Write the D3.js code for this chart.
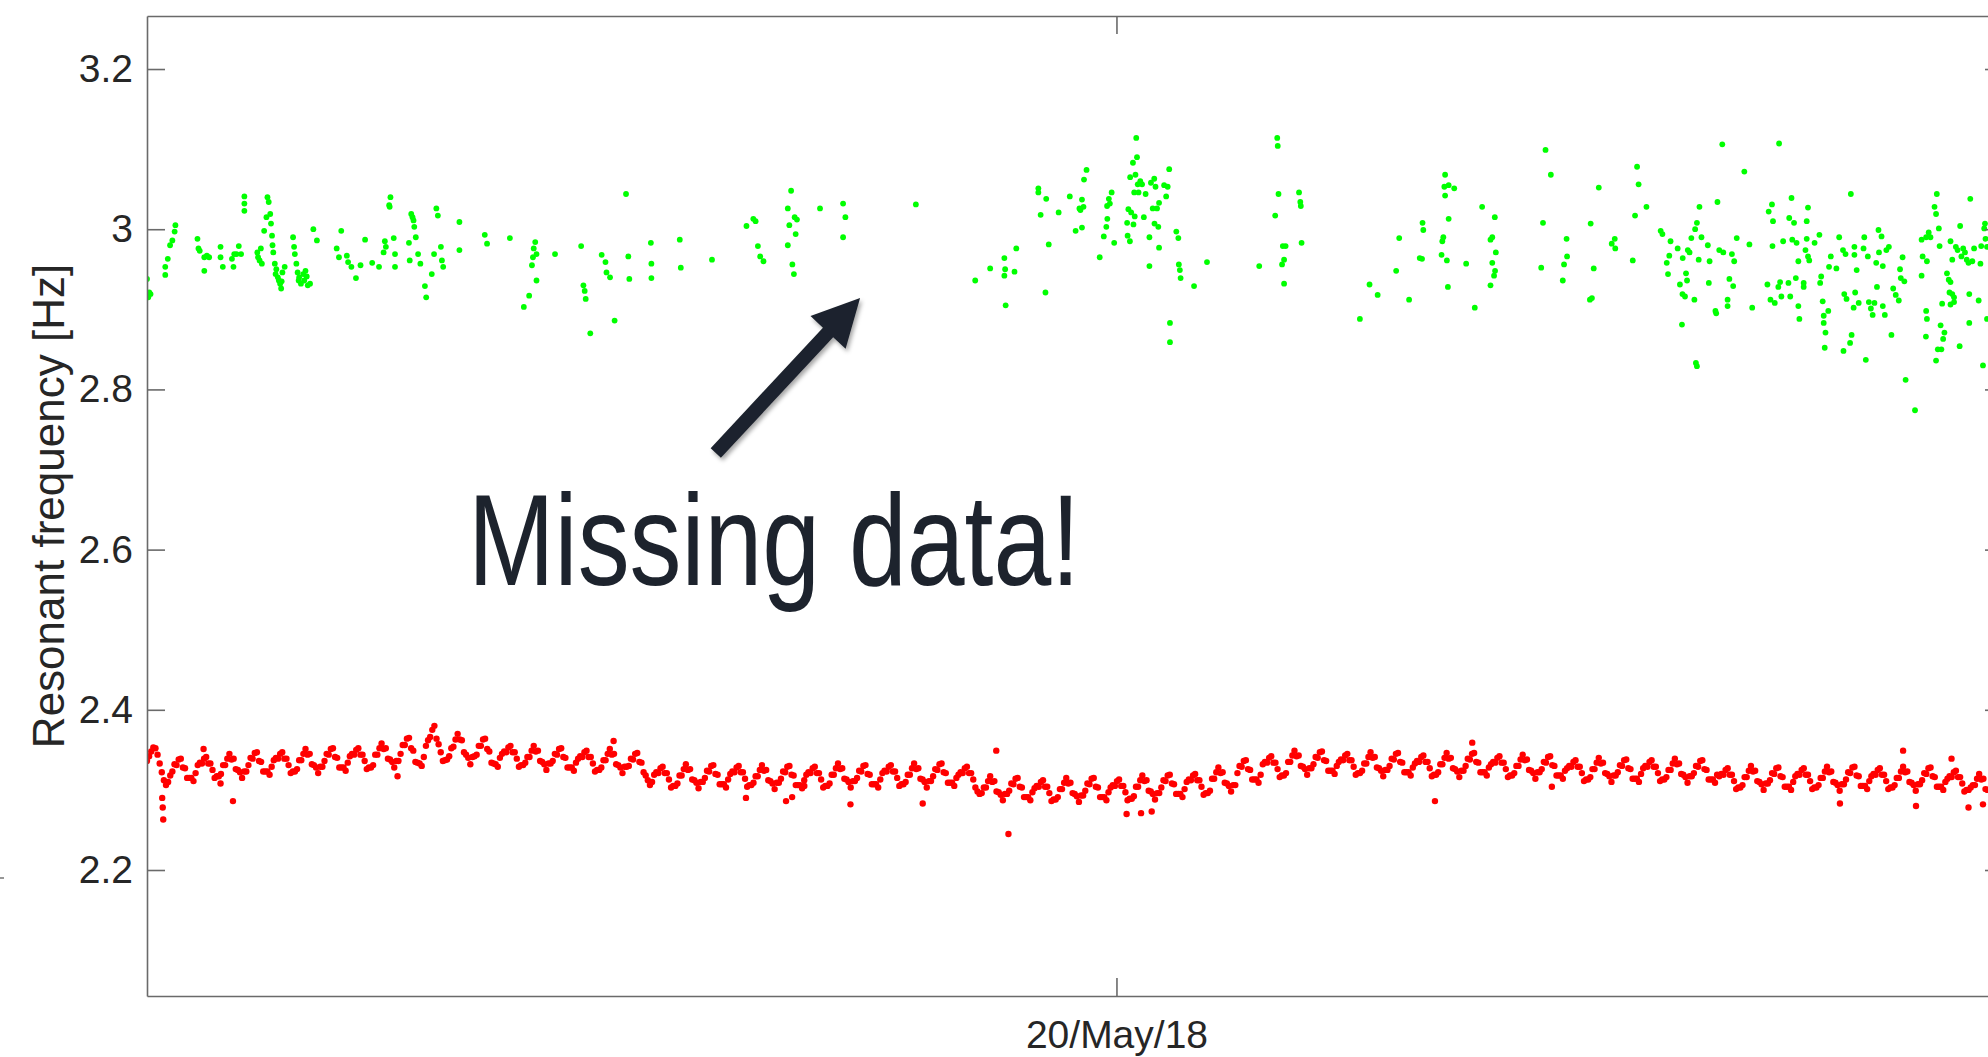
<!DOCTYPE html>
<html><head><meta charset="utf-8">
<script src="https://cdn.jsdelivr.net/npm/d3@7"></script>
<style>html,body{margin:0;padding:0;background:#fff;overflow:hidden;} svg{display:block;}</style>
</head><body>
<svg id="chart" width="1988" height="1057"></svg>
<script>
// ---- time axis ----
const startTime = Date.UTC(2018, 3, 11, 18, 29);   // left edge of the axes
const spanDays = 73.19;
const xTickDates = [Date.UTC(2018, 4, 20)];
const xTickLabels = ["20/May/18"];
// ---- value axis ----
const yDomain = [2.0427, 3.2662];
const yTicks = [2.2, 2.4, 2.6, 2.8, 3.0, 3.2];
const yTickLabels = ["2.2", "2.4", "2.6", "2.8", "3", "3.2"];
const yLabel = "Resonant frequency [Hz]";
// ---- red series: one reading every 2 hours from startTime (one row per day) ----
const redStepHours = 2;
const redFreq = [
2.336,2.342,2.348,2.353,2.352,2.344,2.333,2.322,2.312,2.306,2.310,2.318,
2.323,2.332,2.331,2.338,2.339,2.328,2.327,2.315,2.315,2.315,2.311,2.321,
2.331,2.334,2.333,2.339,2.341,2.333,2.333,2.325,2.315,2.317,2.317,2.320,
2.331,2.331,2.339,2.345,2.338,2.339,2.326,2.325,2.322,2.315,2.323,2.323,
2.331,2.340,2.339,2.346,2.347,2.336,2.335,2.323,2.323,2.323,2.319,2.329,
2.337,2.340,2.339,2.345,2.347,2.339,2.339,2.331,2.321,2.323,2.323,2.326,
2.337,2.337,2.345,2.351,2.344,2.345,2.332,2.331,2.328,2.321,2.329,2.329,
2.336,2.345,2.344,2.351,2.352,2.341,2.340,2.328,2.328,2.328,2.324,2.334,
2.342,2.345,2.344,2.350,2.352,2.344,2.344,2.336,2.326,2.328,2.328,2.331,
2.344,2.344,2.352,2.358,2.351,2.352,2.339,2.338,2.335,2.328,2.336,2.336,
2.345,2.356,2.356,2.364,2.365,2.352,2.349,2.335,2.334,2.333,2.330,2.341,
2.355,2.362,2.366,2.375,2.380,2.364,2.357,2.347,2.336,2.337,2.338,2.342,
2.352,2.354,2.363,2.370,2.363,2.362,2.347,2.344,2.340,2.332,2.341,2.342,
2.344,2.355,2.355,2.363,2.364,2.351,2.348,2.334,2.333,2.332,2.329,2.340,
2.345,2.348,2.347,2.353,2.355,2.347,2.347,2.339,2.329,2.331,2.331,2.334,
2.341,2.341,2.349,2.355,2.348,2.349,2.336,2.335,2.332,2.325,2.333,2.333,
2.336,2.345,2.344,2.351,2.352,2.341,2.340,2.328,2.328,2.328,2.324,2.334,
2.339,2.342,2.341,2.347,2.349,2.341,2.341,2.333,2.323,2.325,2.325,2.328,
2.337,2.337,2.345,2.351,2.344,2.345,2.332,2.331,2.328,2.321,2.329,2.329,
2.330,2.339,2.338,2.345,2.346,2.335,2.334,2.322,2.318,2.312,2.306,2.310,
2.319,2.322,2.321,2.327,2.329,2.321,2.321,2.313,2.303,2.305,2.305,2.308,
2.318,2.318,2.326,2.332,2.325,2.326,2.313,2.312,2.309,2.302,2.310,2.310,
2.315,2.324,2.323,2.330,2.331,2.320,2.319,2.307,2.307,2.307,2.303,2.313,
2.320,2.323,2.322,2.328,2.330,2.322,2.322,2.314,2.304,2.306,2.306,2.309,
2.317,2.317,2.325,2.331,2.324,2.325,2.312,2.311,2.308,2.301,2.309,2.309,
2.314,2.323,2.322,2.329,2.330,2.319,2.318,2.306,2.306,2.306,2.302,2.312,
2.319,2.322,2.321,2.327,2.329,2.321,2.321,2.313,2.303,2.305,2.305,2.308,
2.319,2.319,2.327,2.333,2.326,2.327,2.314,2.313,2.310,2.303,2.311,2.311,
2.315,2.324,2.323,2.330,2.331,2.320,2.319,2.307,2.307,2.307,2.303,2.313,
2.321,2.324,2.323,2.329,2.331,2.323,2.323,2.315,2.305,2.307,2.307,2.310,
2.319,2.319,2.327,2.333,2.326,2.327,2.314,2.313,2.310,2.303,2.311,2.311,
2.317,2.326,2.325,2.332,2.333,2.322,2.321,2.309,2.309,2.309,2.305,2.315,
2.319,2.322,2.321,2.327,2.329,2.321,2.321,2.313,2.303,2.298,2.295,2.296,
2.303,2.303,2.311,2.317,2.310,2.311,2.298,2.297,2.294,2.287,2.295,2.295,
2.299,2.308,2.307,2.314,2.315,2.304,2.303,2.291,2.291,2.291,2.287,2.297,
2.302,2.305,2.304,2.310,2.312,2.304,2.304,2.296,2.286,2.288,2.288,2.291,
2.301,2.301,2.309,2.315,2.308,2.309,2.296,2.295,2.292,2.285,2.293,2.293,
2.299,2.308,2.307,2.314,2.315,2.304,2.303,2.291,2.291,2.291,2.287,2.297,
2.303,2.306,2.305,2.311,2.313,2.305,2.305,2.297,2.287,2.289,2.289,2.292,
2.304,2.304,2.312,2.318,2.311,2.312,2.299,2.298,2.295,2.288,2.296,2.296,
2.303,2.312,2.311,2.318,2.319,2.308,2.307,2.295,2.295,2.295,2.291,2.301,
2.310,2.313,2.312,2.318,2.320,2.312,2.312,2.304,2.294,2.296,2.296,2.299,
2.314,2.314,2.322,2.328,2.321,2.322,2.309,2.308,2.305,2.298,2.306,2.306,
2.321,2.330,2.329,2.336,2.337,2.326,2.325,2.313,2.313,2.313,2.309,2.319,
2.332,2.335,2.334,2.340,2.342,2.334,2.334,2.326,2.316,2.318,2.318,2.321,
2.335,2.335,2.343,2.349,2.342,2.343,2.330,2.329,2.326,2.319,2.327,2.327,
2.332,2.341,2.340,2.347,2.348,2.337,2.336,2.324,2.324,2.324,2.320,2.330,
2.335,2.338,2.337,2.343,2.345,2.337,2.337,2.329,2.319,2.321,2.321,2.324,
2.333,2.333,2.341,2.347,2.340,2.341,2.328,2.327,2.324,2.317,2.325,2.325,
2.330,2.339,2.338,2.345,2.346,2.335,2.334,2.322,2.322,2.322,2.318,2.328,
2.333,2.336,2.335,2.341,2.343,2.335,2.335,2.327,2.317,2.319,2.319,2.322,
2.332,2.332,2.340,2.346,2.339,2.340,2.327,2.326,2.323,2.316,2.324,2.324,
2.330,2.339,2.338,2.345,2.346,2.335,2.334,2.322,2.322,2.322,2.318,2.328,
2.332,2.335,2.334,2.340,2.342,2.334,2.334,2.326,2.316,2.318,2.318,2.321,
2.330,2.330,2.338,2.344,2.337,2.338,2.325,2.324,2.321,2.314,2.322,2.322,
2.326,2.335,2.334,2.341,2.342,2.331,2.330,2.318,2.318,2.318,2.314,2.324,
2.327,2.330,2.329,2.335,2.337,2.329,2.329,2.321,2.311,2.313,2.313,2.316,
2.326,2.326,2.334,2.340,2.333,2.334,2.321,2.320,2.317,2.310,2.318,2.318,
2.322,2.331,2.330,2.337,2.338,2.327,2.326,2.314,2.314,2.314,2.310,2.320,
2.327,2.330,2.329,2.335,2.337,2.329,2.329,2.321,2.311,2.313,2.313,2.316,
2.325,2.325,2.333,2.339,2.332,2.333,2.320,2.319,2.316,2.309,2.317,2.317,
2.321,2.330,2.329,2.336,2.337,2.326,2.325,2.313,2.313,2.313,2.309,2.319,
2.317,2.320,2.319,2.325,2.327,2.319,2.319,2.311,2.301,2.303,2.303,2.306,
2.316,2.316,2.324,2.330,2.323,2.324,2.311,2.310,2.307,2.300,2.308,2.308,
2.312,2.321,2.320,2.327,2.328,2.317,2.316,2.304,2.304,2.304,2.300,2.310,
2.317,2.320,2.319,2.325,2.327,2.319,2.319,2.311,2.301,2.303,2.303,2.306,
2.315,2.315,2.323,2.329,2.322,2.323,2.310,2.309,2.306,2.299,2.307,2.307,
2.313,2.322,2.321,2.328,2.329,2.318,2.317,2.305,2.305,2.305,2.301,2.311,
2.317,2.320,2.319,2.325,2.327,2.319,2.319,2.311,2.301,2.303,2.303,2.306,
2.315,2.315,2.323,2.329,2.322,2.323,2.310,2.309,2.306,2.299,2.307,2.307,
2.312,2.321,2.320,2.327,2.328,2.317,2.316,2.304,2.304,2.304,2.300,2.310,
2.314,2.317,2.316,2.322,2.324,2.316,2.316,2.308,2.298,2.300,2.300,2.303,
2.306,2.306,2.314,2.320,2.313,2.314,2.301,2.300
];
// isolated red readings (day offsets from startTime)
const redExtraDay = [0.60,0.62,0.64,2.23,2.90,3.39,9.88,18.40,23.62,25.20,25.44,25.92,27.74,30.59,33.49,33.97,38.63,39.20,39.62,50.79,52.26,55.40,66.76,69.25,69.76,71.16,71.83,72.40];
const redExtraFreq = [2.290,2.278,2.263,2.351,2.308,2.286,2.317,2.361,2.290,2.286,2.291,2.305,2.282,2.283,2.349,2.245,2.270,2.271,2.273,2.286,2.359,2.304,2.283,2.349,2.280,2.339,2.278,2.282];
// ---- green series (day offsets from startTime) ----
const greenDay = [
0.00,0.09,0.14,0.05,0.72,0.72,0.82,0.91,1.00,1.09,1.12,1.99,2.03,2.08,2.26,2.26,2.36,2.45,2.90,2.90,2.99,
3.35,3.41,3.44,3.53,3.62,3.71,3.84,3.84,3.84,4.35,4.38,4.44,4.49,4.53,4.62,4.71,4.75,4.80,4.86,4.89,4.93,
4.95,4.98,5.04,5.07,5.10,5.16,5.20,5.25,5.29,5.31,5.34,5.43,5.76,5.80,5.83,5.89,5.94,5.98,6.00,6.07,6.16,6.20,
6.25,6.30,6.34,6.43,6.56,6.70,
7.48,7.57,7.66,7.88,7.93,8.06,8.24,8.42,8.60,8.88,9.15,9.33,9.38,9.42,9.55,9.60,9.57,9.73,9.78,9.78,
10.33,10.36,10.42,10.47,10.51,10.54,10.60,10.69,10.78,10.96,11.01,11.23,11.32,11.41,11.47,11.59,11.63,11.68,
12.32,12.32,13.32,13.41,14.31,14.86,15.07,15.18,15.22,15.25,15.31,15.36,15.36,16.09,17.12,17.21,17.26,17.30,17.48,
17.93,18.08,18.12,18.26,18.44,18.89,18.98,19.02,19.87,19.89,19.89,21.01,21.05,22.28,23.64,23.91,24.00,24.09,24.18,24.31,
25.27,25.33,25.27,25.40,25.45,25.51,25.54,25.63,25.58,26.54,27.45,27.54,27.45,
30.32,32.66,33.25,33.81,33.84,33.81,33.86,34.21,34.28,35.15,35.15,35.24,35.43,35.46,35.56,35.95,36.39,36.62,36.77,36.81,
36.87,36.87,36.93,36.95,37.05,37.57,37.73,37.83,37.87,37.86,37.93,37.97,38.04,38.14,38.65,38.67,38.70,38.76,38.77,38.81,
38.88,38.90,38.93,38.95,38.98,39.01,39.04,39.07,39.10,39.17,39.24,39.31,39.38,39.53,39.53,39.59,39.66,39.72,39.73,39.77,
39.83,39.88,39.91,39.91,40.11,40.19,40.25,40.31,40.34,40.34,40.59,40.67,40.69,40.73,40.76,41.29,41.80,43.86,44.49,44.57,
44.59,44.62,44.76,44.79,44.84,44.84,44.90,45.43,45.48,45.50,45.53,47.83,48.21,48.53,49.26,49.38,49.77,50.19,
50.30,50.33,50.28,51.19,51.16,51.19,51.33,51.55,51.33,51.12,51.08,51.05,51.26,51.30,52.02,52.36,52.65,53.15,53.05,52.98,
53.19,53.05,53.16,53.12,52.98,55.15,55.36,55.05,54.98,55.98,56.00,55.88,55.83,57.25,56.93,57.05,56.98,56.90,57.76,57.88,
57.90,58.76,58.82,58.68,59.13,58.59,59.69,59.76,60.08,60.36,60.03,59.93,59.98,60.45,60.55,60.65,60.56,60.69,60.73,60.76,
60.83,60.90,61.02,60.53,61.08,61.12,61.12,61.05,61.22,61.30,61.19,61.55,61.59,61.62,61.93,62.12,62.00,62.16,61.85,61.88,
62.33,62.33,62.40,62.55,62.50,62.59,62.69,62.99,63.19,63.30,63.90,63.95,64.08,64.12,64.10,64.02,64.19,64.33,64.40,64.45,
64.36,64.52,64.73,64.76,64.80,64.85,64.88,64.95,65.02,65.05,65.12,65.12,65.16,65.33,65.33,65.40,65.45,65.45,65.50,65.50,
65.55,65.76,65.95,66.02,65.98,66.08,66.12,66.12,66.19,66.16,66.30,66.33,66.40,66.62,66.73,66.88,66.98,66.93,67.02,66.90,
67.16,67.22,67.19,67.33,67.33,67.36,67.30,67.42,67.50,67.69,67.72,67.78,67.86,67.90,67.98,68.05,68.12,68.19,68.22,68.28,
68.30,68.40,68.45,68.45,68.53,68.59,68.69,68.79,68.86,68.96,69.08,69.13,69.16,69.23,69.30,69.35,69.72,69.98,70.02,69.98,
70.16,70.26,70.33,70.19,70.16,70.19,70.15,70.58,70.49,70.55,70.66,70.69,70.73,70.88,70.83,70.62,70.76,70.55,70.98,71.05,
71.12,71.08,71.19,71.26,71.12,71.26,70.79,71.12,71.19,71.33,71.40,71.48,71.50,71.55,71.62,71.69,71.76,71.83,71.86,71.86,
71.90,71.98,72.05,72.23,72.30,72.33,72.40,72.45,72.48,72.50,72.56,72.56
];
const greenFreq = [
2.938,2.921,2.919,2.915,2.953,2.943,2.963,2.980,2.986,2.997,3.005,2.988,2.976,2.973,2.965,2.948,2.967,2.965,2.978,2.965,2.953,
2.963,2.953,2.969,2.969,2.979,2.969,3.041,3.032,3.023,2.971,2.965,2.961,2.976,2.957,2.998,3.015,3.040,3.034,3.019,3.007,2.992,
2.980,2.971,2.957,2.944,2.950,2.940,2.936,2.932,2.926,2.935,2.946,2.953,2.990,2.978,2.969,2.957,2.946,2.936,2.940,2.932,2.944,2.936,
2.948,2.941,2.930,2.932,3.000,2.986,
2.976,2.965,2.998,2.967,2.959,2.953,2.939,2.955,2.987,2.958,2.953,2.971,2.985,2.978,3.030,3.040,3.028,2.989,2.969,2.953,
2.983,2.961,3.019,3.015,3.011,3.003,2.990,2.969,2.957,2.929,2.915,2.944,2.969,3.026,3.017,2.978,2.961,2.953,
3.009,2.974,2.993,2.982,2.989,2.903,2.917,2.955,2.965,2.976,2.984,2.936,2.969,2.969,2.979,2.930,2.923,2.913,2.870,
2.968,2.959,2.946,2.940,2.886,3.044,2.966,2.938,2.983,2.957,2.939,2.987,2.952,2.962,3.004,3.013,3.010,2.979,2.966,2.960,
3.026,3.005,2.980,3.048,2.956,2.944,3.015,3.012,2.994,3.026,3.032,3.015,2.990,
3.031,2.936,2.951,2.964,2.950,2.942,2.905,2.947,2.976,3.051,3.046,3.018,2.921,3.038,2.981,3.021,3.041,2.998,3.026,3.024,
3.037,3.002,3.028,3.062,3.074,2.965,2.991,3.003,3.013,3.029,3.038,3.032,3.046,2.983,3.008,2.992,3.025,2.985,3.065,3.021,
3.083,3.006,3.046,3.016,3.068,3.114,3.090,3.056,3.046,3.060,3.056,3.015,3.044,2.990,2.954,3.058,3.026,3.063,3.007,3.053,
3.026,3.003,2.977,3.033,3.055,3.041,3.053,3.075,2.883,2.859,2.997,2.989,2.956,2.949,2.939,2.929,2.959,2.954,3.017,3.114,
3.104,3.044,2.956,2.979,2.962,2.932,2.979,3.046,3.034,3.029,2.983,2.888,2.931,2.918,2.948,2.989,2.912,2.964,
3.008,2.999,2.963,3.068,3.053,3.042,3.055,3.051,3.013,2.990,2.985,2.968,2.961,2.928,2.957,2.902,3.028,3.015,2.990,2.987,
2.971,2.958,2.948,2.942,2.930,3.099,3.068,3.008,2.952,2.988,2.966,2.956,2.936,3.052,3.007,2.951,2.914,2.912,2.982,2.988,
2.976,3.078,3.056,3.017,3.028,2.961,2.998,2.994,2.985,2.976,2.967,2.958,2.944,2.931,2.919,2.916,2.964,2.945,2.936,2.974,
2.971,2.989,2.912,2.881,2.833,2.829,3.008,3.000,3.028,2.990,2.962,2.980,2.933,2.960,3.034,3.106,2.974,2.971,2.898,2.895,
2.912,2.904,2.938,2.929,2.969,2.960,2.989,3.072,2.981,2.902,2.931,3.022,3.031,3.010,2.979,2.912,2.908,2.928,2.934,2.916,
3.107,2.985,2.933,3.014,2.916,3.039,2.987,3.008,2.939,2.983,2.960,2.904,2.888,2.933,2.928,2.974,2.988,3.010,3.027,2.966,
2.961,2.983,2.993,2.941,2.933,2.910,2.892,2.883,2.871,2.852,2.898,2.953,2.966,2.951,2.990,2.974,2.969,2.919,2.913,2.848,
2.858,2.868,3.044,2.978,2.968,2.921,2.902,2.949,2.908,2.976,2.990,2.837,2.966,2.909,2.901,2.893,2.908,2.958,2.928,2.999,
2.971,2.991,2.954,2.904,2.893,2.974,2.978,2.868,2.926,2.918,2.911,2.950,2.939,2.965,2.935,2.812,2.774,2.942,2.966,2.987,
2.990,2.996,2.990,2.960,2.898,2.888,2.866,3.044,3.028,3.019,3.001,2.979,2.880,2.871,2.863,2.850,2.850,2.836,2.945,2.937,
2.934,2.921,2.919,2.915,2.906,2.909,2.907,2.985,2.962,2.978,2.974,2.854,3.004,2.966,2.976,2.971,2.962,2.958,2.919,2.883,
3.038,2.960,2.976,2.911,2.957,2.979,2.830,3.001,3.007,2.988,2.978,2.888
];
// ---- annotation (anchored in data coordinates) ----
const annotationText = "Missing data!";
const annotationAt = {day: 12.66, freq: 2.5558};
const arrowFrom = {day: 22.43, freq: 2.7206};
const arrowTo = {day: 28.12, freq: 2.9141};

// ================= drawing =================
const W = 1988, H = 1057;
const plot = {left: 147, right: 2003, top: 16, bottom: 996};
const dayMs = 864e5;
const toDate = d => new Date(startTime + d * dayMs);

const x = d3.scaleUtc().domain([new Date(startTime), toDate(spanDays)]).range([plot.left, plot.right]);
const y = d3.scaleLinear().domain(yDomain).range([plot.bottom, plot.top]);

const svg = d3.select("#chart");
const defs = svg.append("defs");
defs.append("clipPath").attr("id", "clip").append("rect")
  .attr("x", plot.left).attr("y", plot.top)
  .attr("width", plot.right - plot.left).attr("height", plot.bottom - plot.top);
const f = defs.append("filter").attr("id", "shadow").attr("x", "-20%").attr("y", "-20%").attr("width", "140%").attr("height", "140%");
f.append("feDropShadow").attr("dx", 2).attr("dy", 3).attr("stdDeviation", 2)
  .attr("flood-color", "#000").attr("flood-opacity", 0.35);

const redPts = redFreq.map((v, i) => ({t: toDate(i * redStepHours / 24), v}))
  .concat(redExtraDay.map((d, i) => ({t: toDate(d), v: redExtraFreq[i]})));
const greenPts = greenDay.map((d, i) => ({t: toDate(d), v: greenFreq[i]}));

const dots = svg.append("g").attr("clip-path", "url(#clip)");
dots.append("g").selectAll("circle").data(redPts).join("circle")
  .attr("cx", d => x(d.t)).attr("cy", d => y(d.v)).attr("r", 3.2).attr("fill", "#ff0000");
dots.append("g").selectAll("circle").data(greenPts).join("circle")
  .attr("cx", d => x(d.t)).attr("cy", d => y(d.v)).attr("r", 2.9).attr("fill", "#00ff00");

// axes (MATLAB-style box with inward ticks)
const axisColor = "#6a6a6a";
const textColor = "#262626";
const fontFam = "'Liberation Sans', Arial, Helvetica, sans-serif";
function styleAxis(g) {
  g.selectAll("path.domain").attr("stroke", axisColor).attr("stroke-width", 1.6);
  g.selectAll(".tick line").attr("stroke", axisColor).attr("stroke-width", 1.6);
  g.selectAll(".tick text").attr("fill", textColor).attr("font-family", fontFam).attr("font-size", 39);
}
const tickLen = 18;
svg.append("g").attr("transform", `translate(${plot.left},0)`)
  .call(d3.axisLeft(y).tickValues(yTicks).tickFormat((d, i) => yTickLabels[i]).tickSizeInner(-tickLen).tickSizeOuter(0).tickPadding(14))
  .call(styleAxis);
svg.append("g").attr("transform", `translate(${plot.right},0)`)
  .call(d3.axisRight(y).tickValues(yTicks).tickFormat("").tickSizeInner(-tickLen).tickSizeOuter(0))
  .call(styleAxis);
svg.append("g").attr("transform", `translate(0,${plot.bottom})`)
  .call(d3.axisBottom(x).tickValues(xTickDates.map(t => new Date(t))).tickFormat((d, i) => xTickLabels[i]).tickSizeInner(-tickLen).tickSizeOuter(0).tickPadding(24))
  .call(styleAxis);
svg.append("g").attr("transform", `translate(0,${plot.top})`)
  .call(d3.axisTop(x).tickValues(xTickDates.map(t => new Date(t))).tickFormat("").tickSizeInner(-tickLen).tickSizeOuter(0))
  .call(styleAxis);

// y label
svg.append("text")
  .attr("transform", `translate(64,${(plot.top + plot.bottom) / 2}) rotate(-90)`)
  .attr("text-anchor", "middle").attr("fill", textColor)
  .attr("font-family", fontFam).attr("font-size", 44)
  .text(yLabel);

// stray tick mark at far left edge
svg.append("line").attr("x1", 0).attr("x2", 4).attr("y1", 878).attr("y2", 878)
  .attr("stroke", axisColor).attr("stroke-width", 1.4);

// annotation arrow
const ink = "#1d232d";
const p0 = [x(toDate(arrowFrom.day)), y(arrowFrom.freq)];
const p1 = [x(toDate(arrowTo.day)), y(arrowTo.freq)];
const dx = p1[0] - p0[0], dy = p1[1] - p0[1], len = Math.hypot(dx, dy);
const ux = dx / len, uy = dy / len, nx = -uy, ny = ux;
const headLen = 47, headHalf = 24, shaftHalf = 7;
const bx = p1[0] - headLen * ux, by = p1[1] - headLen * uy;
const poly = [
  [p0[0] + shaftHalf * nx, p0[1] + shaftHalf * ny],
  [bx + shaftHalf * nx, by + shaftHalf * ny],
  [bx + headHalf * nx, by + headHalf * ny],
  p1,
  [bx - headHalf * nx, by - headHalf * ny],
  [bx - shaftHalf * nx, by - shaftHalf * ny],
  [p0[0] - shaftHalf * nx, p0[1] - shaftHalf * ny]
];
svg.append("polygon").attr("points", poly.map(p => p.join(",")).join(" "))
  .attr("fill", ink).attr("filter", "url(#shadow)");

// annotation text
svg.append("text")
  .attr("x", x(toDate(annotationAt.day))).attr("y", y(annotationAt.freq))
  .attr("fill", ink).attr("font-family", fontFam).attr("font-size", 129)
  .attr("textLength", 612).attr("lengthAdjust", "spacingAndGlyphs")
  .text(annotationText);
</script>
</body></html>
